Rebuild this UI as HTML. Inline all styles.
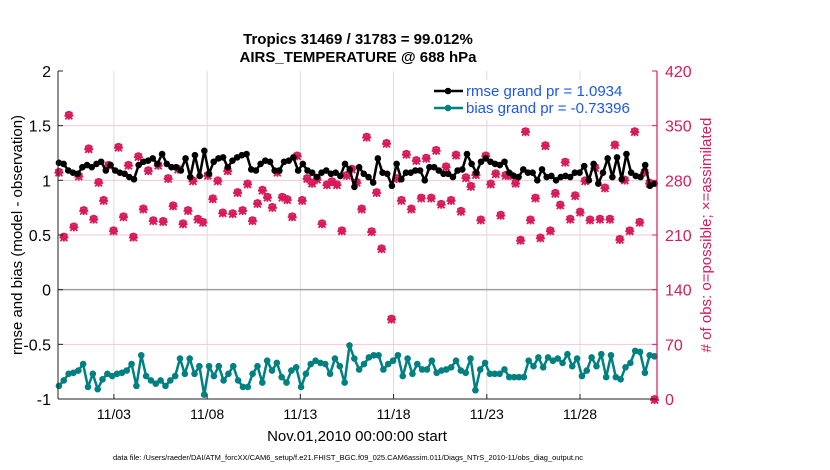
<!DOCTYPE html>
<html><head><meta charset="utf-8">
<style>
html,body{margin:0;padding:0;background:#fff;}
svg{display:block;font-family:"Liberation Sans",Arial,sans-serif;}
</style></head>
<body>
<svg id="chart" width="830" height="470" viewBox="0 0 830 470" xmlns="http://www.w3.org/2000/svg">
<rect x="0" y="0" width="830" height="470" fill="#fff"/>
<text x="358" y="44" text-anchor="middle" font-size="15" font-weight="bold">Tropics 31469 / 31783 = 99.012%</text>
<text x="358" y="62" text-anchor="middle" font-size="15" font-weight="bold">AIRS_TEMPERATURE @ 688 hPa</text>
<g id="grid"></g>
<g id="series"></g>
<g id="axes"></g>
<text x="357" y="441" text-anchor="middle" font-size="15">Nov.01,2010 00:00:00 start</text>
<text transform="translate(22,235) rotate(-90)" text-anchor="middle" font-size="15">rmse and bias (model - observation)</text>
<text transform="translate(711,235) rotate(-90)" text-anchor="middle" font-size="15" fill="#d81b5a">#  of obs: o=possible; ×=assimilated</text>
<text x="348" y="460" text-anchor="middle" font-size="7.5">data file: /Users/raeder/DAI/ATM_forcXX/CAM6_setup/f.e21.FHIST_BGC.f09_025.CAM6assim.011/Diags_NTrS_2010-11/obs_diag_output.nc</text>
<g id="legend"></g>
</svg>
<script>
const xTickLabels = ["11/03","11/08","11/13","11/18","11/23","11/28"];
const xTickDays = [3,8,13,18,23,28];
const leftTicks = [2,1.5,1,0.5,0,-0.5,-1];
const rightTicks = [0,70,140,210,280,350,420];
const rmse = [1.16,1.15,1.09,1.07,1.06,1.12,1.14,1.12,1.15,1.17,1.09,1.14,1.09,1.07,1.06,1.03,1.01,1.14,1.17,1.18,1.20,1.15,1.24,1.15,1.12,1.12,1.09,1.20,1.03,1.23,1.04,1.27,1.06,1.17,1.20,1.21,1.12,1.18,1.21,1.23,1.24,1.10,1.09,1.15,1.18,1.17,1.09,1.09,1.17,1.18,1.21,1.09,1.15,1.09,1.07,1.03,1.07,1.09,1.06,1.07,1.04,1.15,1.10,0.94,1.12,1.06,
1.03,0.98,1.20,1.07,1.06,0.95,1.15,1.01,1.07,1.07,1.09,1.09,1.00,1.12,1.12,1.09,1.06,1.06,1.03,1.09,1.10,1.24,1.15,1.07,1.17,1.20,1.17,1.15,1.14,1.17,1.07,1.04,1.03,1.10,1.07,1.07,1.00,1.10,1.03,1.04,1.00,1.03,1.04,1.03,1.07,1.07,1.13,1.00,1.15,0.97,1.07,1.20,1.03,1.21,1.01,1.24,1.07,1.04,1.03,1.14,0.95,0.97];
const bias = [-0.88,-0.83,-0.77,-0.76,-0.74,-0.68,-0.89,-0.77,-0.91,-0.82,-0.77,-0.79,-0.77,-0.76,-0.74,-0.68,-0.88,-0.60,-0.79,-0.83,-0.86,-0.83,-0.88,-0.83,-0.79,-0.63,-0.77,-0.63,-0.77,-0.70,-0.96,-0.70,-0.79,-0.70,-0.83,-0.77,-0.70,-0.83,-0.89,-0.89,-0.77,-0.70,-0.85,-0.65,-0.74,-0.67,-0.80,-0.85,-0.74,-0.71,-0.89,-0.77,-0.68,-0.65,-0.67,-0.68,-0.77,-0.63,-0.70,-0.85,-0.51,-0.63,-0.73,-0.68,-0.62,-0.60,-0.60,-0.73,-0.68,-0.65,-0.60,-0.79,-0.63,-0.77,-0.68,-0.73,-0.73,-0.65,-0.76,-0.74,-0.73,-0.71,-0.65,-0.74,-0.76,-0.63,-0.92,-0.73,-0.67,-0.77,-0.77,-0.77,-0.73,-0.80,-0.80,-0.80,-0.80,-0.65,-0.70,-0.62,-0.71,-0.62,-0.65,-0.63,-0.67,-0.59,-0.70,-0.63,-0.79,-0.74,-0.62,-0.70,-0.59,-0.80,-0.60,-0.80,-0.82,-0.71,-0.67,-0.56,-0.57,-0.76,-0.60,-0.61];
const obsCount = [291,208,364,221,286,242,321,231,278,255,300,216,323,234,300,208,311,244,293,229,300,228,283,248,295,225,242,280,231,227,287,257,280,239,293,238,265,242,276,229,251,268,259,246,291,259,256,234,312,255,283,277,282,225,275,279,275,216,287,295,278,244,336,
215,265,193,328,103,283,255,314,244,306,258,309,258,319,250,298,255,313,241,284,273,288,230,312,276,289,236,287,287,277,204,343,230,258,207,325,216,264,249,304,231,261,240,280,230,297,231,271,231,326,205,281,216,343,227,291,277,0];

const NS="http://www.w3.org/2000/svg";
const X0=58,X1=657,Y0=71,Y1=399;
const DMIN=0,DMAX=32.13;
const xs=d=>X0+(d-DMIN)/(DMAX-DMIN)*(X1-X0);
const yL=v=>Y1-(v+1)/3*(Y1-Y0);
const yR=v=>Y1-v/420*(Y1-Y0);
const T0=0.05,T1=32.0;
const tAt=(i,n)=>T0+i*(T1-T0)/(n-1);
function mk(tag,attrs,parent){const e=document.createElementNS(NS,tag);for(const k in attrs)e.setAttribute(k,attrs[k]);parent.appendChild(e);return e;}
const grid=document.getElementById('grid'),axes=document.getElementById('axes'),ser=document.getElementById('series'),leg=document.getElementById('legend');
const RED="#d81b5a",TEAL="#008080";

xTickDays.forEach((d,i)=>{
  const x=xs(d);
  const g=mk('line',{x1:x,x2:x,y1:Y0,y2:Y1,stroke:'#dcdcdc','stroke-width':1},grid);
  
  
  const tk=mk('line',{x1:x,x2:x,y1:Y1,y2:Y1-5,stroke:'#222','stroke-width':1},axes);
  
  
  const t=mk('text',{x:x,y:Y1+20,'text-anchor':'middle','font-size':14},axes);
  t.textContent=xTickLabels[i];
  
  
});
rightTicks.forEach(v=>{
  const y=yR(v);
  if(v>0&&v<420&&v!==140){
    const g=mk('line',{x1:X0,x2:X1,y1:y,y2:y,stroke:'#f5c6d6','stroke-width':1},grid);
    
    
  }
  const tk=mk('line',{x1:X1-5,x2:X1,y1:y,y2:y,stroke:RED,'stroke-width':1},axes);
  
  
  const t=mk('text',{x:X1+8,y:y+6,'font-size':16,fill:RED},axes);
  t.textContent=v;
  
  
});
const zl=mk('line',{x1:X0,x2:X1,y1:yL(0),y2:yL(0),stroke:'#a0a0a0','stroke-width':1.5},grid);


leftTicks.forEach(v=>{
  const y=yL(v);
  const tk=mk('line',{x1:X0,x2:X0+5,y1:y,y2:y,stroke:'#222','stroke-width':1},axes);
  
  
  const t=mk('text',{x:X0-7,y:y+6,'text-anchor':'end','font-size':16},axes);
  t.textContent=v;
  
  
});
const la=mk('line',{x1:X0,x2:X0,y1:Y0,y2:Y1,stroke:'#222','stroke-width':1},axes);


const ba=mk('line',{x1:X0,x2:X1,y1:Y1,y2:Y1,stroke:'#222','stroke-width':1},axes);


const ra=mk('line',{x1:X1,x2:X1,y1:Y0,y2:Y1,stroke:RED,'stroke-width':1.2},axes);



// obs count markers
obsCount.forEach((v,i)=>{
  const x=xs(tAt(i,obsCount.length)),y=yR(v);
  const g=mk('g',{stroke:RED,'stroke-width':1.8,fill:'none'},ser);
  
  
  mk('circle',{cx:x,cy:y,r:3},g);
  mk('line',{x1:x-4.5,x2:x+4.5,y1:y+1,y2:y+1},g);
  mk('line',{x1:x,x2:x,y1:y-3.5,y2:y+5},g);
  mk('line',{x1:x-3.5,x2:x+3.5,y1:y-2.5,y2:y+4.5},g);
  mk('line',{x1:x-3.5,x2:x+3.5,y1:y+4.5,y2:y-2.5},g);
});
function series(vals,color,name){
  const pts=vals.map((v,i)=>xs(tAt(i,vals.length)).toFixed(1)+','+yL(v).toFixed(1)).join(' ');
  const pl=mk('polyline',{points:pts,fill:'none',stroke:color,'stroke-width':2.5,'stroke-linejoin':'round'},ser);
  
  
  vals.forEach((v,i)=>{
    const c=mk('circle',{cx:xs(tAt(i,vals.length)),cy:yL(v),r:3.3,fill:color},ser);
    
    
  });
}
series(rmse,'#000','rmse');
series(bias,TEAL,'bias');

// legend
const lb=mk('rect',{x:418,y:80,width:236,height:40,fill:'#fff'},leg);


[['rmse grand pr = 1.0934','#000',96],['bias grand pr = -0.73396',TEAL,113]].forEach(([txt,col,y])=>{
  const l=mk('line',{x1:434,x2:463,y1:y-5,y2:y-5,stroke:col,'stroke-width':2.5},leg);
  
  
  const c=mk('circle',{cx:448,cy:y-5,r:3.3,fill:col},leg);
  
  
  const t=mk('text',{x:466,y:y,'font-size':15,fill:'#1a57f0'},leg);
  t.textContent=txt;
  
  
});
</script>
</body></html>
